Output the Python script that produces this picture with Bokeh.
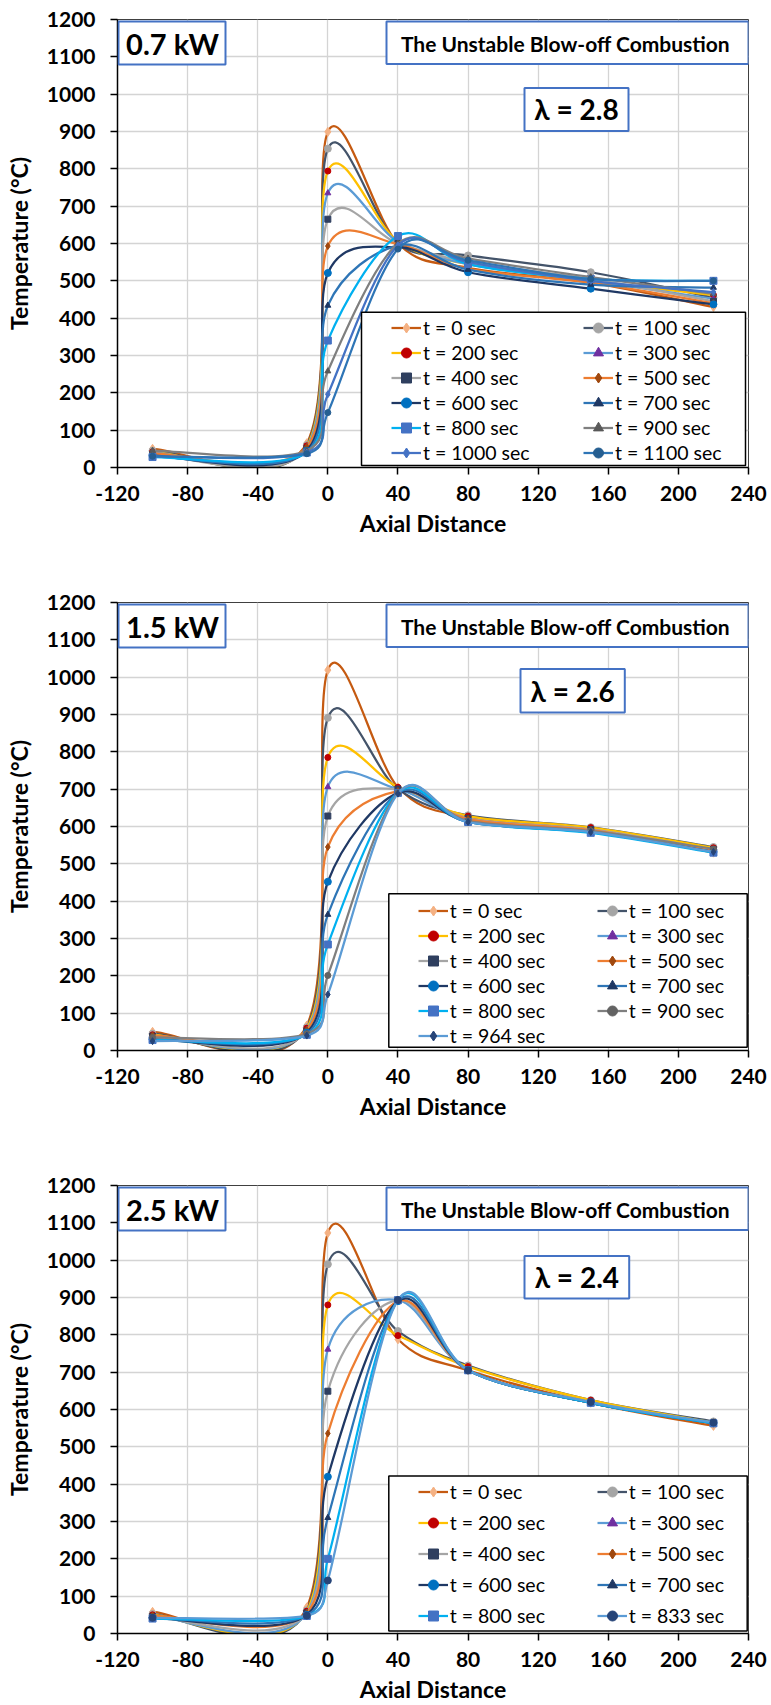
import math

from bokeh.plotting import figure
from bokeh.layouts import column
from bokeh.models import Range1d, FixedTicker, Legend, LegendItem, BoxAnnotation, Label
from bokeh.embed import file_html
from bokeh.resources import INLINE

# ---------------------------------------------------------------- data
axial_distance = [-100, -12, 0, 40, 80, 150, 220]
x_ticks = [-120, -80, -40, 0, 40, 80, 120, 160, 200, 240]
y_ticks = [0, 100, 200, 300, 400, 500, 600, 700, 800, 900, 1000, 1100, 1200]

# 0.7 kW, lambda = 2.8
labels_07kw = ["t = 0 sec", "t = 100 sec", "t = 200 sec", "t = 300 sec",
               "t = 400 sec", "t = 500 sec", "t = 600 sec", "t = 700 sec",
               "t = 800 sec", "t = 900 sec", "t = 1000 sec", "t = 1100 sec"]
temps_07kw = [
    [50, 65, 899, 600, 535, 495, 430],
    [45, 60, 854, 600, 568, 523, 455],
    [42, 58, 794, 605, 545, 500, 462],
    [40, 55, 735, 605, 545, 500, 452],
    [35, 50, 665, 600, 550, 505, 445],
    [38, 55, 593, 598, 532, 495, 440],
    [32, 45, 521, 590, 523, 479, 437],
    [30, 42, 434, 595, 530, 490, 482],
    [28, 40, 340, 620, 545, 505, 500],
    [45, 45, 258, 600, 560, 510, 465],
    [30, 40, 196, 595, 550, 500, 470],
    [30, 37, 147, 585, 555, 505, 500],
]

# 1.5 kW, lambda = 2.6
labels_15kw = ["t = 0 sec", "t = 100 sec", "t = 200 sec", "t = 300 sec",
               "t = 400 sec", "t = 500 sec", "t = 600 sec", "t = 700 sec",
               "t = 800 sec", "t = 900 sec", "t = 964 sec"]
temps_15kw = [
    [50, 67, 1019, 705, 625, 595, 530],
    [45, 62, 891, 700, 630, 598, 545],
    [42, 60, 785, 705, 628, 597, 543],
    [40, 55, 706, 700, 620, 590, 535],
    [38, 52, 628, 700, 622, 592, 538],
    [40, 55, 545, 695, 620, 590, 535],
    [30, 48, 452, 690, 612, 585, 532],
    [30, 45, 364, 690, 612, 585, 532],
    [28, 42, 284, 690, 612, 583, 530],
    [35, 45, 201, 690, 615, 588, 540],
    [25, 40, 150, 688, 612, 585, 532],
]

# 2.5 kW, lambda = 2.4
labels_25kw = ["t = 0 sec", "t = 100 sec", "t = 200 sec", "t = 300 sec",
               "t = 400 sec", "t = 500 sec", "t = 600 sec", "t = 700 sec",
               "t = 800 sec", "t = 833 sec"]
temps_25kw = [
    [58, 70, 1073, 788, 705, 618, 556],
    [52, 62, 989, 810, 718, 625, 568],
    [50, 60, 880, 798, 715, 625, 565],
    [47, 55, 761, 893, 705, 618, 563],
    [45, 55, 649, 893, 705, 618, 563],
    [48, 55, 536, 890, 705, 618, 563],
    [42, 50, 420, 890, 705, 618, 563],
    [42, 48, 310, 890, 705, 618, 563],
    [40, 47, 200, 893, 705, 618, 563],
    [42, 48, 142, 893, 705, 620, 565],
]

# ---------------------------------------------------------------- styles
# (line colour, marker, marker colour, marker size)
BASE_STYLES = [
    ("#C55A11", "diamond", "#F4B183", 9),
    ("#44546A", "circle", "#A5A5A5", 7),
    ("#FFC000", "circle", "#C00000", 6),
    ("#5B9BD5", "triangle", "#7030A0", 6),
    ("#A5A5A5", "square", "#2F3F5F", 6),
    ("#ED7D31", "diamond", "#A0480E", 7),
    ("#1F3864", "circle", "#0070C0", 7),
    ("#2E75B6", "triangle", "#1F3864", 6),
    ("#00B0F0", "square", "#4472C4", 7),
]
styles_07kw = BASE_STYLES + [
    ("#7F7F7F", "triangle", "#595959", 6),
    ("#4472C4", "diamond", "#4472C4", 7),
    ("#2E75B6", "circle", "#255E91", 6),
]
styles_15kw = BASE_STYLES + [
    ("#7F7F7F", "circle", "#636363", 6),
    ("#5B9BD5", "diamond", "#264478", 7),
]
styles_25kw = BASE_STYLES + [
    ("#5B9BD5", "circle", "#264478", 7),
]

FONT = "Lato"
X_RANGE = (-120, 240)
Y_RANGE = (0, 1200)
FRAME_W, FRAME_H = 631, 448
BOX_BLUE = "#4472C4"


def excel_smooth(xs, ys):
    """Bezier segments of a spreadsheet-style smoothed line (computed in pixel space)."""
    kx = FRAME_W / (X_RANGE[1] - X_RANGE[0])
    ky = FRAME_H / (Y_RANGE[1] - Y_RANGE[0])
    pts = [(x * kx, y * ky) for x, y in zip(xs, ys)]
    n = len(pts)
    out = {k: [] for k in ("x0", "y0", "x1", "y1", "cx0", "cy0", "cx1", "cy1")}

    def dist(a, b):
        return math.hypot(a[0] - b[0], a[1] - b[1])

    for i in range(n - 1):
        p0 = pts[i - 1] if i > 0 else pts[i]
        p1 = pts[i]
        p2 = pts[i + 1]
        p3 = pts[i + 2] if i + 2 < n else pts[i + 1]
        d12 = dist(p1, p2)
        d02 = dist(p0, p2)
        d13 = dist(p1, p3)
        f1 = 1 / 6 if d02 / 6 < d12 / 2 else d12 / (2 * d02)
        f2 = 1 / 6 if d13 / 6 < d12 / 2 else d12 / (2 * d13)
        c1 = (p1[0] + f1 * (p2[0] - p0[0]), p1[1] + f1 * (p2[1] - p0[1]))
        c2 = (p2[0] - f2 * (p3[0] - p1[0]), p2[1] - f2 * (p3[1] - p1[1]))
        out["x0"].append(p1[0] / kx)
        out["y0"].append(p1[1] / ky)
        out["x1"].append(p2[0] / kx)
        out["y1"].append(p2[1] / ky)
        out["cx0"].append(c1[0] / kx)
        out["cy0"].append(c1[1] / ky)
        out["cx1"].append(c2[0] / kx)
        out["cy1"].append(c2[1] / ky)
    return out


def add_box(p, left, right, top, bottom, color, width):
    """Framed white box in frame pixels (origin bottom-left of the frame)."""
    p.add_layout(BoxAnnotation(left=left, right=right, top=top, bottom=bottom,
                               left_units="screen", right_units="screen",
                               top_units="screen", bottom_units="screen",
                               fill_color="white", fill_alpha=1.0,
                               line_color=color, line_width=width, line_alpha=1.0))


def add_text(p, x, y, text, size):
    p.add_layout(Label(x=x, y=y, x_units="screen", y_units="screen", text=text,
                       text_align="center", text_baseline="middle",
                       text_font=FONT, text_font_style="bold",
                       text_font_size=size, text_color="black"))


def make_panel(labels, temps, styles, power, lam, lam_box, legend_box,
               legend_xy, row_gap, label_w, bottom):
    p = figure(frame_width=FRAME_W, frame_height=FRAME_H,
               x_range=Range1d(*X_RANGE), y_range=Range1d(*Y_RANGE),
               min_border_left=117, min_border_right=23, min_border_top=19,
               min_border_bottom=bottom, output_backend="svg",
               toolbar_location=None, background_fill_color="white",
               border_fill_color="white")

    p.outline_line_color = "#404040"
    p.outline_line_width = 1

    for g in (p.xgrid, p.ygrid):
        g.grid_line_color = "#D4D4D4"
        g.grid_line_width = 1.3

    p.xaxis.ticker = FixedTicker(ticks=x_ticks)
    p.yaxis.ticker = FixedTicker(ticks=y_ticks)
    p.xaxis.major_label_overrides = {t: str(t) for t in x_ticks}
    for ax in (p.xaxis, p.yaxis):
        ax.axis_line_color = "black"
        ax.axis_line_width = 1.5
        ax.major_tick_line_color = "black"
        ax.major_tick_line_width = 1.5
        ax.major_tick_out = 7
        ax.major_tick_in = 0
        ax.minor_tick_line_color = None
        ax.major_label_text_font = FONT
        ax.major_label_text_font_style = "bold"
        ax.major_label_text_font_size = "21px"
        ax.major_label_text_color = "black"
        ax.axis_label_text_font = FONT
        ax.axis_label_text_font_style = "bold"
        ax.axis_label_text_font_size = "23px"
        ax.axis_label_text_color = "black"
    p.xaxis.axis_label = "Axial Distance"
    p.yaxis.axis_label = "Temperature (°C)"
    p.xaxis.major_label_standoff = 11
    p.yaxis.major_label_standoff = 15
    p.xaxis.axis_label_standoff = 5
    p.yaxis.axis_label_standoff = 11

    items = []
    for label, temp, (lc, mk, mc, ms) in zip(labels, temps, styles):
        seg = excel_smooth(axial_distance, temp)
        curve = p.bezier(x0=seg["x0"], y0=seg["y0"], x1=seg["x1"], y1=seg["y1"],
                         cx0=seg["cx0"], cy0=seg["cy0"], cx1=seg["cx1"], cy1=seg["cy1"],
                         line_color=lc, line_width=2.25)
        dots = p.scatter(axial_distance, temp, marker=mk, size=ms,
                         fill_color=mc, line_color=mc)
        items.append(LegendItem(label=label, renderers=[curve, dots]))

    # boxed captions
    add_box(p, 1, 108, FRAME_H - 2, FRAME_H - 45, BOX_BLUE, 2)
    add_text(p, 55, FRAME_H - 24, power, "29px")
    add_box(p, 269, 631, FRAME_H - 2, FRAME_H - 44.5, BOX_BLUE, 2)
    add_text(p, 448, FRAME_H - 23.5, "The Unstable Blow-off Combustion", "21px")
    l, r, t, b = lam_box
    add_box(p, l, r, FRAME_H - t, FRAME_H - b, BOX_BLUE, 2)
    add_text(p, (l + r) / 2, FRAME_H - (t + b) / 2, lam, "28px")

    # legend frame and two-column legend
    l, r, t, b = legend_box
    add_box(p, l, r, t, b, "black", 1.5)
    legend = Legend(items=items, ncols=2, orientation="horizontal",
                    location=legend_xy, padding=0, margin=0, spacing=row_gap,
                    border_line_alpha=0, background_fill_alpha=0,
                    glyph_width=30, glyph_height=25, label_height=25,
                    label_width=label_w, label_standoff=2,
                    label_text_font=FONT, label_text_font_size="19.5px",
                    label_text_color="black")
    p.add_layout(legend, "center")
    return p


p1 = make_panel(labels_07kw, temps_07kw, styles_07kw, "0.7 kW", "λ = 2.8",
                (407, 511, 68.4, 111.4), (244, 628, 155.3, 2),
                (274, 2), 0, 160, 116)
p2 = make_panel(labels_15kw, temps_15kw, styles_15kw, "1.5 kW", "λ = 2.6",
                (403, 507.3, 66.6, 110), (271.3, 629.7, 156.7, 3.3),
                (300.7, 2.3), 0, 147, 116)
p3 = make_panel(labels_25kw, temps_25kw, styles_25kw, "2.5 kW", "λ = 2.4",
                (407, 511.7, 70.4, 113), (271.3, 629.7, 157.5, 2.4),
                (300.7, 4.9), 6, 141, 72)

layout = column(p1, p2, p3, spacing=0)
open("out.html", "w").write(file_html(layout, INLINE))
